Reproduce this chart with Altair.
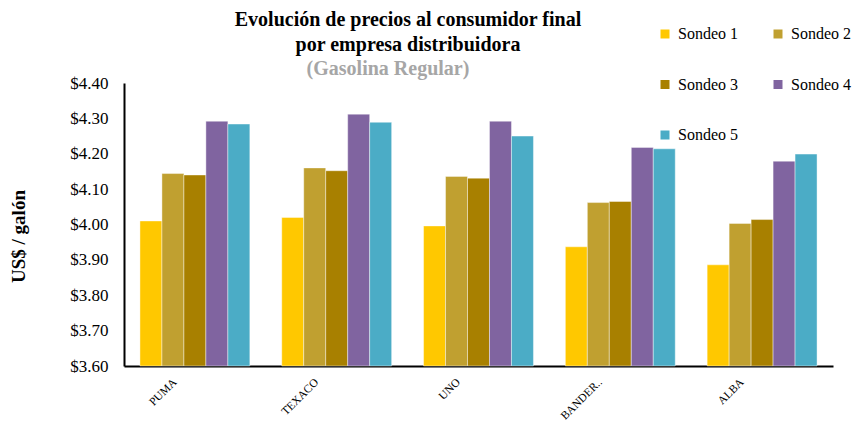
import altair as alt
import pandas as pd

empresas = ["PUMA", "TEXACO", "UNO", "BANDER..", "ALBA"]
sondeos = ["Sondeo 1", "Sondeo 2", "Sondeo 3", "Sondeo 4", "Sondeo 5"]
sondeo_1 = [4.01, 4.02, 3.996, 3.937, 3.886]
sondeo_2 = [4.144, 4.16, 4.136, 4.062, 4.003]
sondeo_3 = [4.14, 4.152, 4.131, 4.065, 4.014]
sondeo_4 = [4.292, 4.312, 4.292, 4.218, 4.179]
sondeo_5 = [4.284, 4.289, 4.25, 4.214, 4.199]
colores = ["#FFC800", "#C0A030", "#A88000", "#8064A0", "#4BACC6"]
y_ticks = [3.6, 3.7, 3.8, 3.9, 4.0, 4.1, 4.2, 4.3, 4.4]
titulo_1 = "Evolución de precios al consumidor final"
titulo_2 = "por empresa distribuidora"
subtitulo = "(Gasolina Regular)"

series = [sondeo_1, sondeo_2, sondeo_3, sondeo_4, sondeo_5]
rows = []
for s, vals in zip(sondeos, series):
    for e, v in zip(empresas, vals):
        rows.append({"empresa": e, "sondeo": s, "precio": v})
df = pd.DataFrame(rows)

FONT = "Liberation Serif"

bars = alt.Chart(df).mark_bar(stroke="white", strokeWidth=0.6, strokeOpacity=0.7).encode(
    x=alt.X("empresa:N", sort=empresas,
            scale=alt.Scale(paddingInner=0.225, paddingOuter=0.1125),
            axis=alt.Axis(title=None, domainColor="black", domainWidth=2, ticks=False,
                          labelAngle=-45, labelAlign="right", labelBaseline="top",
                          labelOffset=-24, labelPadding=10, labelFontSize=11.5,
                          labelFont=FONT, labelColor="black", labelLimit=200)),
    xOffset=alt.XOffset("sondeo:N", sort=sondeos, scale=alt.Scale(paddingInner=0, paddingOuter=0)),
    y=alt.Y("precio:Q",
            scale=alt.Scale(domain=[3.6, 4.4], nice=False, zero=False),
            axis=alt.Axis(title="US$ / galón", values=y_ticks, format="$.2f",
                          domainColor="black", domainWidth=2, ticks=False, grid=False,
                          labelPadding=16, labelFontSize=17, labelFont=FONT, labelColor="black",
                          titleFont=FONT, titleFontSize=19, titleFontWeight="bold",
                          titleColor="black", titleX=-96, titleY=153)),
    y2=alt.datum(3.6),
    color=alt.Color("sondeo:N", sort=sondeos,
                    scale=alt.Scale(domain=sondeos, range=colores),
                    legend=alt.Legend(title=None, orient="none", legendX=533, legendY=-57,
                                      columns=2, direction="horizontal",
                                      columnPadding=32, rowPadding=34.5,
                                      symbolType="square", symbolSize=81, symbolStrokeWidth=0,
                                      labelFontSize=16, labelFont=FONT, labelColor="black",
                                      labelOffset=5)),
)


def title_line(text, x, y, color):
    return alt.Chart(pd.DataFrame({"t": [text]})).mark_text(
        font=FONT, fontSize=20, fontWeight="bold", color=color,
        align="center", baseline="middle",
    ).encode(x=alt.value(x), y=alt.value(y), text="t:N")


chart = alt.layer(
    bars,
    title_line(titulo_1, 284, -63, "black"),
    title_line(titulo_2, 284, -38, "black"),
    title_line(subtitulo, 264, -14, "#A6A6A6"),
).properties(
    width=709,
    height=283,
    autosize=alt.AutoSizeParams(type="none"),
    padding={"left": 116, "top": 75, "right": 23, "bottom": 58},
).configure_view(stroke=None)

chart.save("out.html", embed_options={"renderer": "svg", "actions": False})
